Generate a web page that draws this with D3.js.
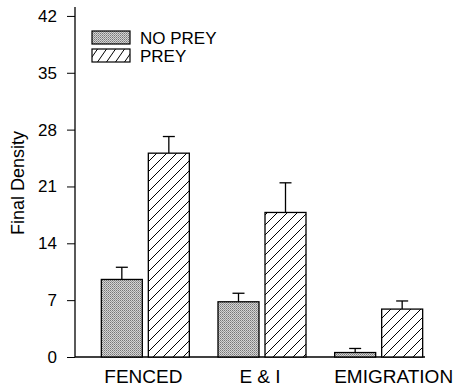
<!DOCTYPE html>
<html>
<head>
<meta charset="utf-8">
<script src="https://cdn.jsdelivr.net/npm/d3@7.9.0/dist/d3.min.js"></script>
<style>
  body { margin: 0; background: #fff; }
  svg { font-family: Arial, "Liberation Sans", sans-serif; }
</style>
</head>
<body>
<svg width="455" height="388"></svg>
<script>
const categories = ['FENCED', 'E & I', 'EMIGRATION'];
const series = ['NO PREY', 'PREY'];
const noPrey = [9.55, 6.8, 0.55];
const noPreyErr = [1.5, 1.05, 0.5];
const prey = [25.1, 17.8, 5.9];
const preyErr = [2.05, 3.65, 1.0];
const yTicks = [0, 7, 14, 21, 28, 35, 42];

const svg = d3.select('svg');
const axisX = 75, axisRight = 425, baseY = 357, topY = 7;
const font = 'Arial, "Liberation Sans", sans-serif';

// patterns
const defs = svg.append('defs');
const dots = defs.append('pattern').attr('id', 'dots')
  .attr('patternUnits', 'userSpaceOnUse').attr('width', 2).attr('height', 2);
dots.append('rect').attr('width', 2).attr('height', 2).attr('fill', '#d4d4d4');
dots.append('rect').attr('x', 0).attr('y', 0).attr('width', 1).attr('height', 1).attr('fill', '#777');
dots.append('rect').attr('x', 1).attr('y', 1).attr('width', 1).attr('height', 1).attr('fill', '#999');

const hatch = defs.append('pattern').attr('id', 'hatch')
  .attr('patternUnits', 'userSpaceOnUse').attr('width', 10).attr('height', 10);
hatch.append('rect').attr('width', 10).attr('height', 10).attr('fill', '#fff');
hatch.append('path').attr('d', 'M-1,11 L11,-1 M-3,3 L3,-3 M7,13 L13,7')
  .attr('stroke', '#000').attr('stroke-width', 1);

const hatchSmall = defs.append('pattern').attr('id', 'hatchSmall')
  .attr('patternUnits', 'userSpaceOnUse').attr('width', 9).attr('height', 13);
hatchSmall.append('rect').attr('width', 9).attr('height', 13).attr('fill', '#fff');
hatchSmall.append('path').attr('d', 'M0,13 L9,0 M-3,4.3 L3,-4.3 M6,17.3 L12,8.7')
  .attr('stroke', '#000').attr('stroke-width', 1);

const y = d3.scaleLinear().domain([0, 43.1]).range([baseY, topY]);
const x0 = d3.scaleBand().domain(categories).range([87, 437]);
const x1 = d3.scaleBand().domain(series).range([-44, 44]).paddingInner(6 / 47);

// y axis
const yAxis = svg.append('g').attr('transform', `translate(${axisX},0)`)
  .call(d3.axisLeft(y).tickValues(yTicks).tickSize(8).tickPadding(10));
yAxis.select('.domain').remove();
yAxis.selectAll('.tick line').attr('stroke', '#000').attr('stroke-width', 1);
yAxis.selectAll('.tick text').attr('font-size', 17).attr('fill', '#000')
  .attr('font-family', font);
svg.append('line').attr('x1', axisX).attr('x2', axisX)
  .attr('y1', y.range()[1]).attr('y2', baseY).attr('stroke', '#000').attr('stroke-width', 1.3);

// x axis
const xAxis = svg.append('g').attr('transform', `translate(0,${baseY})`)
  .call(d3.axisBottom(x0).tickSize(0).tickPadding(13));
xAxis.select('.domain').remove();
xAxis.selectAll('.tick text').attr('font-size', 19).attr('fill', '#000')
  .attr('font-family', font)
  .attr('dx', d => d === 'EMIGRATION' ? 15 : -2);
svg.append('line').attr('x1', axisX).attr('x2', axisRight)
  .attr('y1', baseY).attr('y2', baseY).attr('stroke', '#000').attr('stroke-width', 1.3);

// bars
const rows = categories.flatMap((c, i) => [
  { c, s: 'NO PREY', v: noPrey[i], e: noPreyErr[i] },
  { c, s: 'PREY', v: prey[i], e: preyErr[i] }
]);
const fills = { 'NO PREY': 'url(#dots)', 'PREY': 'url(#hatch)' };
const cx = d => x0(d.c) + x0.bandwidth() / 2 + x1(d.s) + x1.bandwidth() / 2;

const g = svg.append('g');
g.selectAll('line.err').data(rows).join('line').attr('class', 'err')
  .attr('x1', cx).attr('x2', cx)
  .attr('y1', d => y(d.v)).attr('y2', d => y(d.v + d.e))
  .attr('stroke', '#000').attr('stroke-width', 1.3);
g.selectAll('line.cap').data(rows).join('line').attr('class', 'cap')
  .attr('x1', d => cx(d) - 6).attr('x2', d => cx(d) + 6)
  .attr('y1', d => y(d.v + d.e)).attr('y2', d => y(d.v + d.e))
  .attr('stroke', '#000').attr('stroke-width', 1.3);
g.selectAll('rect').data(rows).join('rect')
  .attr('x', d => x0(d.c) + x0.bandwidth() / 2 + x1(d.s))
  .attr('y', d => y(d.v))
  .attr('width', x1.bandwidth())
  .attr('height', d => baseY - y(d.v))
  .attr('fill', d => fills[d.s])
  .attr('stroke', '#000').attr('stroke-width', 1.3);

// legend
const legend = svg.append('g').attr('transform', 'translate(92,31)');
series.forEach((s, i) => {
  legend.append('rect').attr('x', 0).attr('y', i * 18).attr('width', 38).attr('height', 13)
    .attr('fill', i === 0 ? 'url(#dots)' : 'url(#hatchSmall)')
    .attr('stroke', '#000').attr('stroke-width', 1.2);
  legend.append('text').attr('x', 48).attr('y', i * 18 + 13)
    .attr('font-size', 17).text(s);
});

// y label
svg.append('text').attr('transform', 'translate(24,183) rotate(-90)')
  .attr('text-anchor', 'middle').attr('font-size', 18).text('Final Density');
</script>
</body>
</html>
